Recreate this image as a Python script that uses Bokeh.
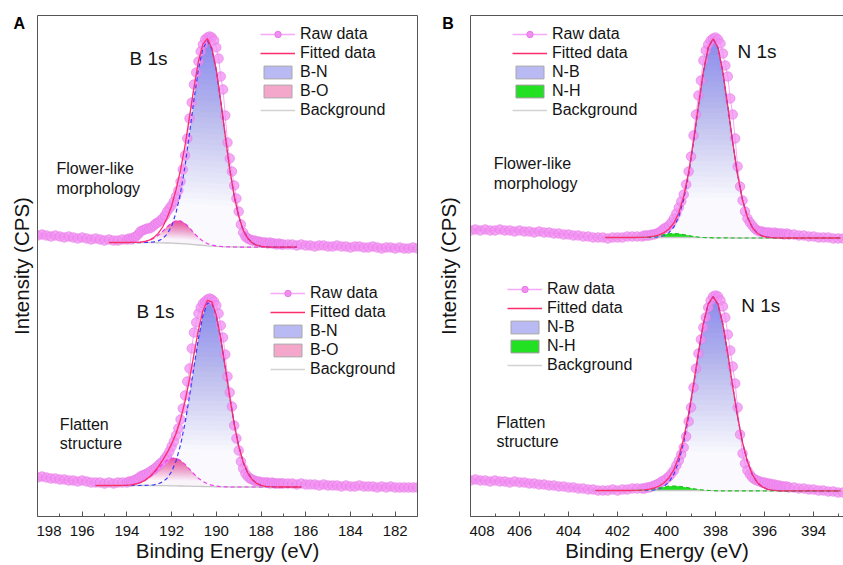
import numpy as np
from bokeh.plotting import figure
from bokeh.models import Range1d, LinearAxis, FixedTicker, Legend, LegendItem, Label
from bokeh.layouts import row
from bokeh.embed import file_html
from bokeh.resources import INLINE

FONT = "Liberation Sans"


def grid(start, stop, step):
    n = int(round((start - stop) / step)) + 1
    return [round(start - i * step, 2) for i in range(n)]


# ---------------- Panel A : B 1s ----------------
A_x_ticks = [198, 196, 194, 192, 190, 188, 186, 184, 182]
A_x_minor = [197, 195, 193, 191, 189, 187, 185, 183, 181]
A_raw_x = grid(198.0, 194.2, 0.2) + grid(194.0, 187.0, 0.1) + grid(186.8, 181.0, 0.2)

A_top_raw = [281, 282, 281, 280, 281, 280, 279, 280, 279, 278, 279, 278, 277, 278, 277, 276, 277, 276, 276, 277,
             277, 278, 277, 279, 280, 282, 285, 286, 287, 288,
             288, 289, 291, 293, 294, 296, 298, 301, 305, 308,
             311, 315, 320, 326, 335, 347, 361, 378, 398, 414,
             432, 444, 455, 465, 472, 477, 479, 480, 479, 476,
             469, 458, 440, 427, 401, 374, 358, 345, 331, 318,
             305, 292, 284, 280, 278, 277, 276, 276, 275, 275,
             274, 274, 274, 273, 274, 273, 273, 272, 273, 272,
             272,
             272, 272, 271, 272, 271, 271, 270, 271, 271, 270, 270, 271, 270, 270, 269,
             270, 270, 269, 269, 270, 269, 268, 269, 269, 268, 269, 268, 268, 269, 268]

A_bot_raw = [39, 40, 39, 38, 38, 37, 37, 36, 36, 35, 36, 35, 34, 34, 34, 33, 34, 33, 34, 34,
             34, 35, 35, 36, 37, 38, 40, 41, 42, 43,
             44, 46, 47, 49, 51, 53, 55, 58, 61, 65,
             70, 75, 81, 88, 97, 108, 121, 135, 148, 168,
             184, 194, 203, 209, 213, 215, 217, 218, 217, 215,
             211, 203, 191, 179, 162, 140, 124, 110, 91, 78,
             66, 55, 48, 43, 40, 38, 37, 36, 35, 35,
             34, 34, 34, 34, 33, 34, 33, 33, 33, 33,
             33,
             33, 33, 32, 33, 32, 32, 32, 31, 32, 31, 31, 31, 30, 31, 30,
             30, 31, 30, 30, 30, 29, 30, 29, 30, 29, 29, 29, 29, 29, 29]

A_top_fx = grid(194.8, 186.4, 0.2)
A_top_bn = [0, 0, 0, 0, 0, 0, 0, 0, 0.1, 0.3,
            0.8, 1.9, 4.3, 9, 17, 31, 51, 78, 111, 145,
            176, 197, 205, 197, 176, 145, 111, 78, 51, 31,
            17, 9, 4.3, 1.9, 0.8, 0.3, 0.1, 0, 0, 0,
            0, 0, 0]
A_top_bo = [0, 0, 0, 0, 0, 0.1, 0.2, 0.4, 1.0, 2.2,
            4.3, 7.5, 11.6, 16.3, 20.3, 22.7, 22.7, 20.3, 16.3, 11.6,
            7.5, 4.3, 2.2, 1.0, 0.4, 0.2, 0.1, 0, 0, 0,
            0, 0, 0, 0, 0, 0, 0, 0, 0, 0,
            0, 0, 0]
A_top_bg = [274.0, 274.0, 274.0, 274.0, 274.0, 274.0, 273.9, 273.9, 273.9, 273.8,
            273.8, 273.7, 273.6, 273.5, 273.3, 273.1, 272.9, 272.6, 272.3, 271.9,
            271.5, 271.1, 270.7, 270.4, 270.1, 269.9, 269.7, 269.6, 269.5, 269.5,
            269.4, 269.4, 269.4, 269.4, 269.4, 269.4, 269.4, 269.4, 269.4, 269.4,
            269.4, 269.4, 269.4]

A_bot_fx = grid(195.4, 186.2, 0.2)
A_bot_bn = [0, 0, 0, 0, 0, 0, 0, 0, 0, 0,
            0, 0.1, 0.3, 0.7, 1.7, 3.7, 7.5, 14.2, 25.0, 41.2,
            63.1, 90.1, 119.7, 148.1, 170.8, 183.4, 183.4, 170.8, 148.1, 119.7,
            90.1, 63.1, 41.2, 25.0, 14.2, 7.5, 3.7, 1.7, 0.7, 0.3,
            0.1, 0, 0, 0, 0, 0, 0]
A_bot_bo = [0, 0, 0, 0, 0, 0, 0.1, 0.3, 0.7, 1.5,
            2.8, 5.0, 8.1, 12.3, 17.0, 21.7, 25.5, 27.7, 27.7, 25.5,
            21.7, 17.0, 12.3, 8.1, 5.0, 2.8, 1.5, 0.7, 0.3, 0.1,
            0, 0, 0, 0, 0, 0, 0, 0, 0, 0,
            0, 0, 0, 0, 0, 0, 0]
A_bot_bg = [31.0, 31.0, 31.0, 31.0, 31.0, 31.0, 31.0, 31.0, 31.0, 31.0,
            31.0, 31.0, 31.0, 31.0, 30.9, 30.9, 30.8, 30.7, 30.6, 30.5,
            30.4, 30.3, 30.2, 30.1, 30.0, 29.9, 29.8, 29.7, 29.6, 29.6,
            29.5, 29.5, 29.5, 29.5, 29.5, 29.5, 29.5, 29.5, 29.5, 29.5,
            29.5, 29.5, 29.5, 29.5, 29.5, 29.5, 29.5]

# ---------------- Panel B : N 1s ----------------
B_x_ticks = [408, 406, 404, 402, 400, 398, 396, 394]
B_x_minor = [407, 405, 403, 401, 399, 397, 395, 393]
B_raw_x = grid(408.0, 401.2, 0.2) + grid(401.0, 395.0, 0.1) + grid(394.8, 392.8, 0.2)

B_top_raw = [286, 287, 286, 287, 286, 286, 287, 286, 286, 285,
             286, 285, 285, 284, 285, 284, 284, 283, 283, 282,
             282, 281, 281, 280, 280, 279, 279, 279, 278, 279,
             279, 279, 280, 280, 280,
             280, 281, 281, 281, 282, 282, 283, 284, 286, 288,
             289, 291, 294, 298, 303, 309, 315, 322, 332, 345,
             360, 381, 402, 421, 436, 456, 466, 472, 476, 478,
             479, 477, 473, 463, 451, 440, 418, 402, 378, 350,
             330, 316, 305, 298, 294, 291, 288, 286, 285, 285,
             284, 284, 284, 283, 284, 283, 283, 283, 282, 283,
             282,
             282, 281, 281, 280, 280, 279, 279, 279, 278, 278, 278]

B_bot_raw = [36, 37, 36, 36, 35, 36, 35, 35, 34, 35,
             34, 34, 33, 33, 32, 32, 31, 31, 30, 30,
             29, 29, 28, 28, 27, 27, 26, 26, 26, 27,
             26, 27, 27, 28, 28,
             28, 28, 29, 29, 30, 31, 32, 33, 35, 36,
             38, 40, 43, 46, 51, 56, 62, 69, 80, 95,
             109, 129, 148, 163, 177, 189, 199, 209, 216, 220,
             221, 220, 216, 210, 199, 182, 166, 150, 133, 109,
             82, 63, 53, 46, 42, 39, 37, 36, 35, 34,
             34, 33, 33, 32, 32, 31, 31, 30, 30, 30,
             29,
             29, 28, 28, 27, 27, 26, 26, 25, 25, 24, 24]

B_top_fx = grid(402.5, 392.9, 0.2)
B_top_nb = [0, 0, 0, 0, 0, 0, 0, 0, 0, 0.1,
            0.3, 0.8, 2.0, 4.8, 10.5, 21.0, 38.1, 63.1, 95.5, 131.6,
            165.6, 190.1, 199, 190.1, 165.6, 131.6, 95.5, 63.1, 38.1, 21.0,
            10.5, 4.8, 2.0, 0.8, 0.3, 0.1, 0, 0, 0, 0,
            0, 0, 0, 0, 0, 0, 0, 0, 0]
B_top_nh = [0, 0, 0, 0, 0, 0, 0, 0.1, 0.2, 0.5,
            1.1, 1.9, 2.9, 3.7, 4.0, 3.7, 2.9, 1.9, 1.1, 0.5,
            0.2, 0.1, 0, 0, 0, 0, 0, 0, 0, 0,
            0, 0, 0, 0, 0, 0, 0, 0, 0, 0,
            0, 0, 0, 0, 0, 0, 0, 0, 0]
B_top_bg = [279.0, 279.0, 279.0, 279.0, 279.0, 279.0, 279.0, 279.0, 279.0, 279.0,
            279.0, 279.0, 279.0, 279.0, 279.0, 279.0, 279.0, 279.0, 278.9, 278.9,
            278.8, 278.8, 278.7, 278.7, 278.6, 278.6, 278.5, 278.5, 278.5, 278.5,
            278.5, 278.5, 278.5, 278.5, 278.5, 278.5, 278.5, 278.5, 278.5, 278.5,
            278.5, 278.5, 278.5, 278.5, 278.5, 278.5, 278.5, 278.5, 278.5]

B_bot_fx = grid(402.9, 392.9, 0.2)
B_bot_nb = [0, 0, 0, 0, 0, 0, 0, 0, 0, 0,
            0.1, 0.3, 0.7, 1.8, 4.1, 8.5, 16.4, 29.3, 48.4, 74.0,
            104.6, 137.1, 166.3, 186.6, 194, 186.6, 166.3, 137.1, 104.6, 74.0,
            48.4, 29.3, 16.4, 8.5, 4.1, 1.8, 0.7, 0.3, 0.1, 0,
            0, 0, 0, 0, 0, 0, 0, 0, 0, 0,
            0]
B_bot_nh = [0, 0, 0, 0, 0, 0, 0, 0, 0.1, 0.3,
            0.6, 1.1, 1.8, 2.7, 3.6, 4.3, 4.5, 4.3, 3.6, 2.7,
            1.8, 1.1, 0.6, 0.3, 0.1, 0, 0, 0, 0, 0,
            0, 0, 0, 0, 0, 0, 0, 0, 0, 0,
            0, 0, 0, 0, 0, 0, 0, 0, 0, 0,
            0]
B_bot_bg = [26.0, 26.0, 26.0, 26.0, 26.0, 26.0, 26.0, 26.0, 26.0, 26.0,
            26.0, 26.0, 26.0, 26.0, 26.0, 26.0, 26.0, 26.0, 26.0, 26.0,
            26.0, 25.9, 25.9, 25.8, 25.8, 25.7, 25.7, 25.6, 25.6, 25.6,
            25.6, 25.6, 25.6, 25.6, 25.6, 25.6, 25.6, 25.6, 25.6, 25.6,
            25.6, 25.6, 25.6, 25.6, 25.6, 25.6, 25.6, 25.6, 25.6, 25.6,
            25.6]

# ---------------- styles ----------------
RAW_FILL = "#f28ef2"
RAW_EDGE = "#e679e6"
RAW_CONN = "#f6a9f6"
FIT_COLOR = "#fb2d6c"
BN_LINE, BN_FILL, BN_SWATCH = "#3b3bff", "#8282ee", "#b9b9f4"
BO_LINE, BO_FILL, BO_SWATCH = "#ee3bee", "#ee4f9e", "#f4a6cb"
NH_LINE, NH_FILL, NH_SWATCH = "#22c022", "#12dc12", "#22e022"
BG_COLOR = "#c6c6c6"
AX_COLOR = "#555555"
TXT = "#141414"
NAN = [np.nan]
TOP, BOTTOM = 15, 49


def grad_fill(p, x, base, comp, color, f0=0.2, cmax=0.9, K=30):
    x = np.asarray(x, float)
    base = np.asarray(base, float)
    comp = np.asarray(comp, float)
    H = comp.max()
    p.varea(x=x, y1=base, y2=base + comp, fill_color=color, fill_alpha=0.04)
    prev = 0.0
    for k in range(K):
        lev = H * (f0 + (1 - f0) * k / K)
        c = cmax * (k + 1) / K
        a = 1 - (1 - c) / (1 - prev)
        prev = c
        p.varea(x=x, y1=base + np.minimum(comp, lev), y2=base + comp,
                fill_color=color, fill_alpha=a)


def draw_spectrum(p, raw_x, raw_y, fx, bg, comps):
    bg = np.asarray(bg, float)
    for vals, fcol, lcol, kind, cm in comps:
        if kind == "grad":
            grad_fill(p, fx, bg, vals, fcol, cmax=cm)
        else:
            p.varea(x=fx, y1=bg, y2=bg + np.asarray(vals, float), fill_color=fcol, fill_alpha=0.95)
    p.line(raw_x, raw_y, line_color=RAW_CONN, line_width=1)
    p.scatter(raw_x, raw_y, marker="circle", size=9.5, fill_color=RAW_FILL, line_color=RAW_EDGE,
              line_width=0.8, fill_alpha=0.75, line_alpha=0.8)
    p.line(fx, bg, line_color=BG_COLOR, line_width=1.3)
    total = bg.copy()
    for vals, fcol, lcol, kind, cm in comps:
        v = np.asarray(vals, float)
        p.line(fx, bg + v, line_color=lcol, line_width=1.2, line_dash="4 3")
        total = total + v
    p.line(fx, total, line_color=FIT_COLOR, line_width=1.3)


def make_fig(width, br, xr, ticks, minor, right_axis):
    p = figure(width=width, height=565, x_range=Range1d(*xr), y_range=Range1d(0, 501),
               output_backend="svg", toolbar_location=None,
               x_axis_type=None, y_axis_type=None,
               min_border_left=1, min_border_right=br, min_border_top=TOP, min_border_bottom=BOTTOM)
    p.outline_line_color = None
    p.background_fill_color = "white"
    p.border_fill_color = "white"

    xb = LinearAxis(ticker=FixedTicker(ticks=ticks, minor_ticks=minor),
                    axis_label="Binding Energy (eV)")
    xb.axis_line_color = AX_COLOR
    xb.major_tick_line_color = AX_COLOR
    xb.minor_tick_line_color = AX_COLOR
    xb.major_tick_in = 5
    xb.major_tick_out = 0
    xb.minor_tick_in = 3
    xb.minor_tick_out = 0
    xb.major_label_standoff = 9
    xb.major_label_text_font = FONT
    xb.major_label_text_font_size = "15px"
    xb.major_label_text_color = TXT
    xb.axis_label_text_font = FONT
    xb.axis_label_text_font_size = "20.5px"
    xb.axis_label_text_font_style = "normal"
    xb.axis_label_text_color = TXT
    xb.axis_label_standoff = 0
    p.add_layout(xb, "below")

    sides = ["left", "above"] + (["right"] if right_axis else [])
    for side in sides:
        ax = LinearAxis(ticker=FixedTicker(ticks=[]))
        ax.axis_line_color = AX_COLOR
        ax.major_tick_out = 0
        ax.major_tick_in = 0
        ax.major_label_standoff = 0
        p.add_layout(ax, side)
    return p


def make_side(width, letter, letter_x, ylab_x):
    s = figure(width=width, height=565, x_range=Range1d(0, width), y_range=Range1d(0, 501),
               output_backend="svg", toolbar_location=None, x_axis_type=None, y_axis_type=None,
               min_border_left=0, min_border_right=0, min_border_top=TOP, min_border_bottom=BOTTOM)
    s.outline_line_color = None
    s.add_layout(Label(x=letter_x, y=493, text=letter, text_font=FONT,
                       text_font_size="16px", text_font_style="bold", text_color="#000000",
                       text_baseline="middle", text_align="left"))
    s.add_layout(Label(x=ylab_x, y=250.5, text="Intensity (CPS)", angle=np.pi / 2, text_font=FONT,
                       text_font_size="20.5px", text_color=TXT, text_baseline="middle",
                       text_align="center"))
    return s


def label(p, x, y, text, size):
    p.add_layout(Label(x=x, y=y, text=text, text_font=FONT, text_font_size=size,
                       text_color=TXT, text_baseline="middle", text_align="left"))


def legend_renderers(p, swatch2, swatch2_line):
    r_l = p.line(x=NAN, y=NAN, line_color=RAW_CONN, line_width=1.3)
    r_m = p.scatter(x=NAN, y=NAN, marker="circle", size=9, fill_color=RAW_FILL, line_color=RAW_EDGE)
    r_f = p.line(x=NAN, y=NAN, line_color=FIT_COLOR, line_width=1.5)
    r_c1 = p.quad(left=NAN, right=NAN, top=NAN, bottom=NAN, fill_color=BN_SWATCH, line_color="#a8a8a8")
    r_c2 = p.quad(left=NAN, right=NAN, top=NAN, bottom=NAN, fill_color=swatch2, line_color=swatch2_line)
    r_b = p.line(x=NAN, y=NAN, line_color="#d2d2d2", line_width=1.3)
    return r_l, r_m, r_f, r_c1, r_c2, r_b


def add_legend(p, rends, names, loc):
    r_l, r_m, r_f, r_c1, r_c2, r_b = rends
    items = [LegendItem(label="Raw data", renderers=[r_l, r_m]),
             LegendItem(label="Fitted data", renderers=[r_f]),
             LegendItem(label=names[0], renderers=[r_c1]),
             LegendItem(label=names[1], renderers=[r_c2]),
             LegendItem(label="Background", renderers=[r_b])]
    lg = Legend(items=items, location=loc, orientation="vertical",
                label_text_font=FONT, label_text_font_size="16px", label_text_color=TXT,
                glyph_width=35, glyph_height=16, label_height=18, label_standoff=5, spacing=1,
                padding=0, margin=0, border_line_color=None, background_fill_alpha=0)
    p.add_layout(lg)


# ---------------- Figure A ----------------
sA = make_side(36, "A", 13, 20.8)
pA = make_fig(396, 15, (198.0, 181.0), A_x_ticks, A_x_minor, True)
draw_spectrum(pA, A_raw_x, A_top_raw, A_top_fx, A_top_bg,
              [(A_top_bn, BN_FILL, BN_LINE, "grad", 0.9), (A_top_bo, BO_FILL, BO_LINE, "grad", 0.96)])
draw_spectrum(pA, A_raw_x, A_bot_raw, A_bot_fx, A_bot_bg,
              [(A_bot_bn, BN_FILL, BN_LINE, "grad", 0.9), (A_bot_bo, BO_FILL, BO_LINE, "grad", 0.96)])
rA = legend_renderers(pA, BO_SWATCH, "#a8a8a8")
add_legend(pA, rA, ("B-N", "B-O"), (223, 397))
add_legend(pA, rA, ("B-N", "B-O"), (233, 138))
label(pA, 193.88, 458.5, "B 1s", "19px")
label(pA, 193.57, 205.5, "B 1s", "19px")
label(pA, 197.15, 347.7, "Flower-like", "16px")
label(pA, 197.15, 327.7, "morphology", "16px")
label(pA, 197.0, 92.0, "Flatten", "16px")
label(pA, 197.0, 72.7, "structure", "16px")

# ---------------- Figure B ----------------
sB = make_side(37, "B", 9.7, 15.5)
pB = make_fig(374, 0, (408.0, 392.78), B_x_ticks, B_x_minor, False)
draw_spectrum(pB, B_raw_x, B_top_raw, B_top_fx, B_top_bg,
              [(B_top_nb, BN_FILL, BN_LINE, "grad", 0.9), (B_top_nh, NH_FILL, NH_LINE, "solid", 1.0)])
draw_spectrum(pB, B_raw_x, B_bot_raw, B_bot_fx, B_bot_bg,
              [(B_bot_nb, BN_FILL, BN_LINE, "grad", 0.9), (B_bot_nh, NH_FILL, NH_LINE, "solid", 1.0)])
rB = legend_renderers(pB, NH_SWATCH, "#9a9a9a")
add_legend(pB, rB, ("N-B", "N-H"), (42, 397))
add_legend(pB, rB, ("N-B", "N-H"), (37, 142))
label(pB, 397.11, 465.2, "N 1s", "19px")
label(pB, 396.95, 211.0, "N 1s", "19px")
label(pB, 407.05, 352.7, "Flower-like", "16px")
label(pB, 407.05, 332.7, "morphology", "16px")
label(pB, 406.94, 94.3, "Flatten", "16px")
label(pB, 406.94, 75.3, "structure", "16px")

layout = row(sA, pA, sB, pB)
open("out.html", "w").write(file_html(layout, INLINE))
